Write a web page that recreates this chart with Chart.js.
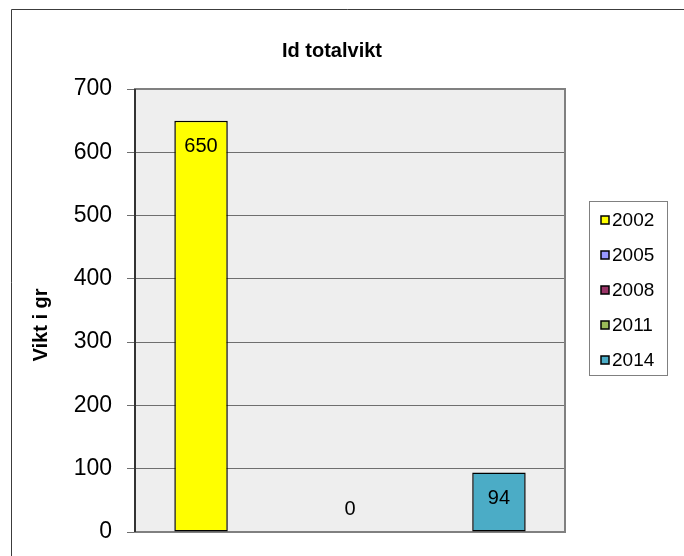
<!DOCTYPE html>
<html>
<head>
<meta charset="utf-8">
<title>Id totalvikt</title>
<script src="https://cdn.jsdelivr.net/npm/chart.js@4.4.1/dist/chart.umd.min.js"></script>
<style>
  html, body { margin: 0; padding: 0; background: #fff; }
  canvas { display: block; }
</style>
</head>
<body>
<canvas id="viktChart" width="684" height="556"></canvas>
<script>
// årtal och vikter (gram)
const years = ['2002', '2005', '2008', '2011', '2014'];
const weights = [650, null, 0, null, 94];
const colors = ['#FFFF00', '#9999FF', '#993366', '#9BBB59', '#4BACC6'];
const yTicks = [0, 100, 200, 300, 400, 500, 600, 700];

const FONT = 'Arial, "Liberation Sans", sans-serif';

const datasets = years.map(function (year, i) {
    return {
        label: year,
        data: [weights[i]],
        backgroundColor: colors[i],
        borderColor: '#000',
        borderWidth: function (ctx) { return ctx.raw ? 1.5 : 0; },
        borderSkipped: false,
        categoryPercentage: 0.866,
        barPercentage: 0.718
    };
});

// ram, grå bakgrund, rubriker och egen legend
const excelLook = {
    id: 'excelLook',
    beforeDraw: function (chart) {
        const c = chart.ctx, a = chart.chartArea;
        c.save();
        c.strokeStyle = '#3c3c3c';
        c.lineWidth = 1;
        c.beginPath();
        c.moveTo(11.5, chart.height);
        c.lineTo(11.5, 9.5);
        c.lineTo(chart.width, 9.5);
        c.stroke();
        c.fillStyle = '#EEEEEE';
        c.fillRect(a.left, a.top, a.right - a.left, a.bottom - a.top);
        c.restore();
    },
    beforeDatasetsDraw: function (chart) {
        const c = chart.ctx, a = chart.chartArea;
        c.save();
        c.strokeStyle = '#808080';
        c.lineWidth = 2;
        c.strokeRect(a.left, a.top, a.right - a.left, a.bottom - a.top);
        c.strokeStyle = '#1a1a1a';
        c.lineWidth = 1.5;
        c.beginPath();
        c.moveTo(a.left, a.top);
        c.lineTo(a.left, a.bottom);
        c.stroke();
        c.restore();
    },
    afterDatasetsDraw: function (chart) {
        const c = chart.ctx;
        c.save();
        c.fillStyle = '#000';
        c.font = '20px ' + FONT;
        c.textAlign = 'center';
        c.textBaseline = 'middle';
        chart.data.datasets.forEach(function (ds, i) {
            const meta = chart.getDatasetMeta(i);
            meta.data.forEach(function (bar, j) {
                const v = ds.data[j];
                if (v === null || v === undefined) return;
                const y = v > 0 ? bar.y + 26 : bar.y - 23;
                c.fillText(String(v), bar.x, y);
            });
        });
        c.restore();
    },
    afterDraw: function (chart) {
        const c = chart.ctx;
        c.save();
        c.fillStyle = '#000';

        // diagramrubrik
        c.font = 'bold 20px ' + FONT;
        c.textAlign = 'center';
        c.textBaseline = 'alphabetic';
        c.fillText('Id totalvikt', 332, 57);

        // axelrubrik
        c.translate(47, 325);
        c.rotate(-Math.PI / 2);
        c.fillText('Vikt i gr', 0, 0);
        c.setTransform(1, 0, 0, 1, 0, 0);

        // legend med ram
        c.strokeStyle = '#808080';
        c.lineWidth = 1;
        c.strokeRect(589.5, 201.5, 78, 174);
        c.font = '19px ' + FONT;
        c.textAlign = 'left';
        c.textBaseline = 'middle';
        chart.data.datasets.forEach(function (ds, i) {
            const cy = 220 + i * 35;
            c.fillStyle = ds.backgroundColor;
            c.fillRect(601, cy - 4, 8, 8);
            c.strokeStyle = '#000';
            c.lineWidth = 1.5;
            c.strokeRect(601, cy - 4, 8, 8);
            c.fillStyle = '#000';
            c.fillText(ds.label, 612, cy + 1);
        });
        c.restore();
    }
};

const config = {
    type: 'bar',
    data: {
        labels: [''],
        datasets: datasets
    },
    options: {
        responsive: false,
        animation: false,
        layout: {
            padding: { left: 0, right: 119, top: 89, bottom: 24 }
        },
        plugins: {
            legend: { display: false },
            title: { display: false },
            tooltip: { enabled: false }
        },
        scales: {
            x: {
                grid: { display: false },
                border: { display: false },
                ticks: { display: false },
                afterFit: function (scale) { scale.height = 0; }
            },
            y: {
                min: yTicks[0],
                max: yTicks[yTicks.length - 1],
                afterBuildTicks: function (scale) {
                    scale.ticks = yTicks.map(function (v) { return { value: v }; });
                },
                afterFit: function (scale) {
                    scale.width = 135;
                    scale.paddingTop = 0;
                    scale.paddingBottom = 0;
                },
                grid: {
                    color: '#6e6e6e',
                    lineWidth: 1,
                    tickLength: 8,
                    drawOnChartArea: true
                },
                border: { display: false },
                ticks: {
                    color: '#000',
                    padding: 15,
                    font: { family: FONT, size: 23 }
                }
            }
        }
    },
    plugins: [excelLook]
};

window.onload = function () {
    const ctx = document.getElementById('viktChart').getContext('2d');
    new Chart(ctx, config);
};
</script>
</body>
</html>
